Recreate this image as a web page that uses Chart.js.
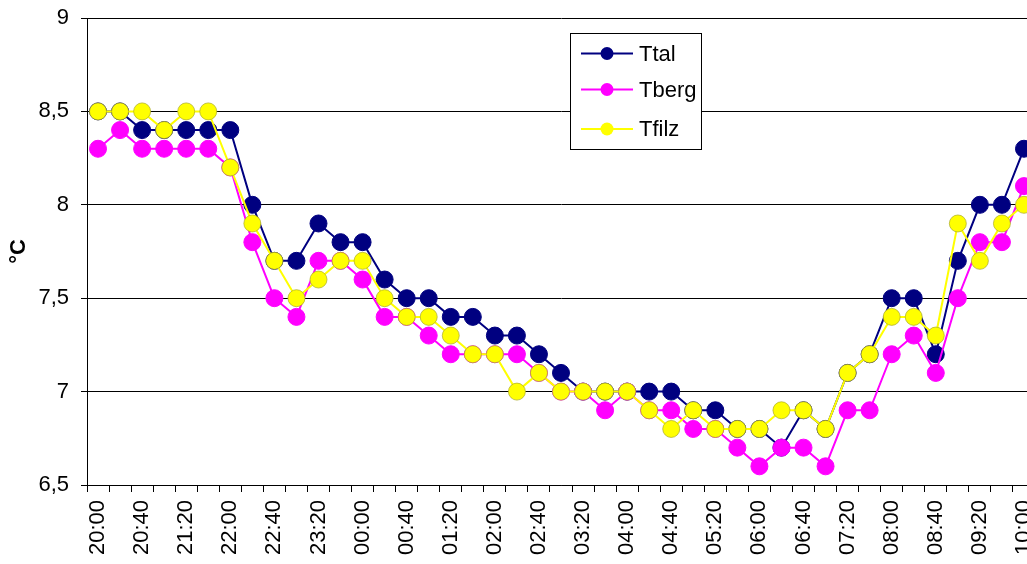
<!DOCTYPE html>
<html>
<head>
<meta charset="utf-8">
<script src="https://cdn.jsdelivr.net/npm/chart.js@4/dist/chart.umd.min.js"></script>
<style>
  html, body { margin: 0; padding: 0; background: #fff; overflow: hidden; }
  #wrap { width: 1027px; height: 564px; overflow: hidden; }
  canvas { display: block; }
</style>
</head>
<body>
<div id="wrap"><canvas id="c" width="1060" height="564"></canvas></div>
<script>
// Zeitpunkte (alle 20 Minuten, 20:00 bis 10:00)
const times = [
  '20:00','20:20','20:40','21:00','21:20','21:40','22:00','22:20','22:40','23:00',
  '23:20','23:40','00:00','00:20','00:40','01:00','01:20','01:40','02:00','02:20',
  '02:40','03:00','03:20','03:40','04:00','04:20','04:40','05:00','05:20','05:40',
  '06:00','06:20','06:40','07:00','07:20','07:40','08:00','08:20','08:40','09:00',
  '09:20','09:40','10:00'
];

// Temperaturen in °C
const tTal = [
  8.5, 8.5, 8.4, 8.4, 8.4, 8.4, 8.4, 8.0, 7.7, 7.7,
  7.9, 7.8, 7.8, 7.6, 7.5, 7.5, 7.4, 7.4, 7.3, 7.3,
  7.2, 7.1, 7.0, 7.0, 7.0, 7.0, 7.0, 6.9, 6.9, 6.8,
  6.8, 6.7, 6.9, 6.8, 7.1, 7.2, 7.5, 7.5, 7.2, 7.7,
  8.0, 8.0, 8.3
];
const tBerg = [
  8.3, 8.4, 8.3, 8.3, 8.3, 8.3, 8.2, 7.8, 7.5, 7.4,
  7.7, 7.7, 7.6, 7.4, 7.4, 7.3, 7.2, 7.2, 7.2, 7.2,
  7.1, 7.0, 7.0, 6.9, 7.0, 6.9, 6.9, 6.8, 6.8, 6.7,
  6.6, 6.7, 6.7, 6.6, 6.9, 6.9, 7.2, 7.3, 7.1, 7.5,
  7.8, 7.8, 8.1
];
const tFilz = [
  8.5, 8.5, 8.5, 8.4, 8.5, 8.5, 8.2, 7.9, 7.7, 7.5,
  7.6, 7.7, 7.7, 7.5, 7.4, 7.4, 7.3, 7.2, 7.2, 7.0,
  7.1, 7.0, 7.0, 7.0, 7.0, 6.9, 6.8, 6.9, 6.8, 6.8,
  6.8, 6.9, 6.9, 6.8, 7.1, 7.2, 7.4, 7.4, 7.3, 7.9,
  7.7, 7.9, 8.0
];

// Achsenbereich
const yMin = 6.5, yMax = 9, yStep = 0.5;
const yTitle = '°C';

const FONT = '"Liberation Sans", Arial, sans-serif';

function series(label, data, color, pointBorder, order) {
  return {
    label, data, order,
    borderColor: color,
    backgroundColor: color,
    borderWidth: 2,
    pointRadius: 8.5,
    pointHoverRadius: 8.5,
    pointBackgroundColor: color,
    pointBorderColor: pointBorder,
    pointBorderWidth: 1,
    tension: 0
  };
}

// Legende im Kasten innerhalb der Grafik
const boxLegend = {
  id: 'boxLegend',
  afterDraw(chart) {
    const ctx = chart.ctx;
    const x0 = 570.5, y0 = 33.5, w = 131, h = 116;
    const rows = [53.5, 89.5, 129];
    ctx.save();
    ctx.fillStyle = '#fff';
    ctx.fillRect(x0, y0, w, h);
    ctx.strokeStyle = '#000';
    ctx.lineWidth = 1;
    ctx.strokeRect(x0, y0, w, h);
    chart.data.datasets.forEach((ds, i) => {
      const y = rows[i];
      ctx.strokeStyle = ds.borderColor;
      ctx.lineWidth = 2;
      ctx.beginPath();
      ctx.moveTo(581, y);
      ctx.lineTo(633, y);
      ctx.stroke();
      ctx.fillStyle = ds.pointBackgroundColor;
      ctx.beginPath();
      ctx.arc(607, y, 6.5, 0, Math.PI * 2);
      ctx.fill();
      ctx.fillStyle = '#000';
      ctx.font = '22px ' + FONT;
      ctx.textAlign = 'left';
      ctx.textBaseline = 'middle';
      ctx.fillText(ds.label, 639, y + 1);
    });
    ctx.restore();
  }
};

new Chart(document.getElementById('c'), {
  type: 'line',
  data: {
    labels: times,
    datasets: [
      series('Ttal', tTal, '#000080', '#000080', 2),
      series('Tberg', tBerg, '#FF00FF', '#FF00FF', 1),
      series('Tfilz', tFilz, '#FFFF00', 'rgba(170,170,40,0.7)', 0)
    ]
  },
  options: {
    responsive: false,
    animation: false,
    devicePixelRatio: 1,
    events: [],
    layout: { padding: { top: 18, right: 25, left: 0, bottom: 0 } },
    plugins: {
      legend: { display: false },
      tooltip: { enabled: false },
      title: { display: false }
    },
    scales: {
      x: {
        offset: true,
        grid: {
          offset: true,
          drawOnChartArea: false,
          drawTicks: true,
          tickLength: 7,
          color: '#000',
          lineWidth: 1
        },
        border: { display: true, color: '#000', width: 1 },
        ticks: {
          autoSkip: false,
          maxRotation: 90,
          minRotation: 90,
          padding: 8,
          color: '#000',
          font: { family: FONT, size: 22 },
          callback: (v, i) => (i % 2 === 0 ? times[i] : '')
        },
        afterFit: s => {
          s.height = 79;
          s.paddingLeft = 0;
          s.paddingRight = 0;
        }
      },
      y: {
        min: yMin,
        max: yMax,
        grid: {
          color: '#000',
          lineWidth: 1,
          drawTicks: true,
          tickLength: 6
        },
        border: { display: true, color: '#000', width: 1 },
        ticks: {
          stepSize: yStep,
          padding: 12,
          color: '#000',
          font: { family: FONT, size: 22 },
          callback: v => String(v).replace('.', ',')
        },
        title: {
          display: true,
          text: yTitle,
          color: '#000',
          font: { family: FONT, size: 22, weight: 'bold' },
          padding: { top: 6, bottom: 0 }
        },
        afterFit: s => {
          s.width = 87;
          s.paddingTop = 0;
          s.paddingBottom = 0;
        }
      }
    }
  },
  plugins: [boxLegend]
});
</script>
</body>
</html>
